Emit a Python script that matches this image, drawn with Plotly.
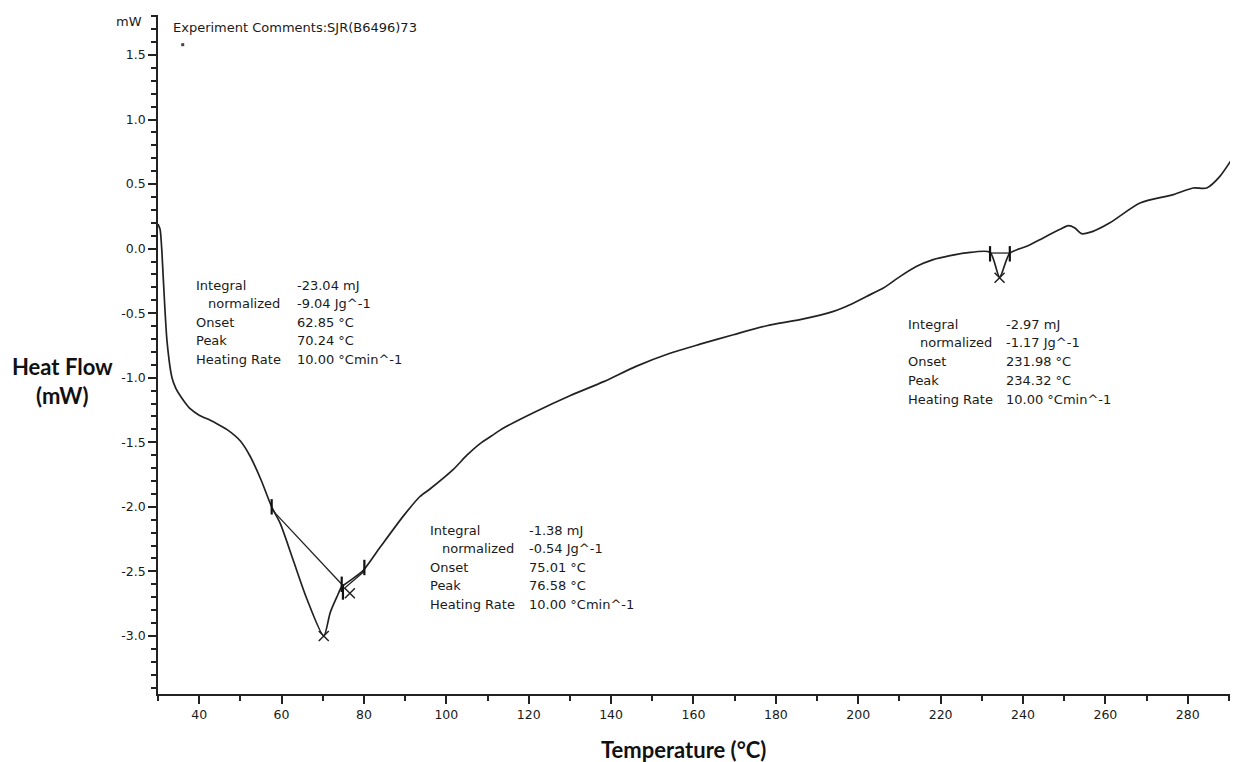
import plotly.graph_objects as go

# ---- data ----
temps = [30.0, 30.5, 30.9, 31.3, 32.2, 33.4, 34.3, 35.4, 36.5, 37.8, 40.0, 42.7, 44.5, 46.7,
         50.0, 52.4, 55.0, 57.6, 59.7, 62.9, 66.1, 70.24, 71.8, 73.4, 74.6, 76.7, 79.9, 84.0,
         89.6, 93.6, 96.1, 101.7, 105.0, 108.2, 111.0, 113.9, 121.9, 130.0, 138.2, 146.2,
         154.3, 161.6, 169.7, 177.8, 185.9, 194.0, 198.0, 202.0, 206.1, 210.2, 214.2, 218.2,
         222.3, 226.3, 231.98, 234.32, 236.8, 240.9, 244.9, 249.0, 251.0, 252.6, 254.2, 257.0,
         261.1, 268.4, 276.5, 281.3, 284.6, 287.8, 292.2]
heat_flow = [0.19, 0.15, 0.0, -0.24, -0.72, -1.00, -1.08, -1.14, -1.19, -1.24, -1.29, -1.33, -1.36, -1.40,
             -1.49, -1.61, -1.79, -2.00, -2.13, -2.42, -2.71, -3.00, -2.82, -2.70, -2.62, -2.57, -2.49, -2.31,
             -2.07, -1.92, -1.86, -1.71, -1.60, -1.51, -1.45, -1.39, -1.26, -1.14, -1.03, -0.91,
             -0.81, -0.74, -0.667, -0.597, -0.55, -0.486, -0.434, -0.37, -0.305, -0.215, -0.137, -0.085,
             -0.054, -0.033, -0.028, -0.22, -0.035, 0.018, 0.083, 0.15, 0.178, 0.16, 0.116, 0.134,
             0.20, 0.354, 0.419, 0.47, 0.47, 0.56, 0.767]

# integration limits (temperature, heat flow) and baselines
limit_t = [57.6, 74.6, 74.9, 80.1, 232.0, 236.8]
limit_v = [-2.00, -2.60, -2.66, -2.47, -0.04, -0.04]
baseline1_t = [57.6, 74.6]
baseline1_v = [-2.02, -2.60]
baseline2_t = [74.9, 80.1]
baseline2_v = [-2.64, -2.50]
baseline3_t = [232.0, 236.8]
baseline3_v = [-0.034, -0.034]
peak_t = [70.24, 76.58, 234.32]
peak_v = [-3.00, -2.67, -0.225]
stray_dot_t = [36.0]
stray_dot_v = [1.58]

x_ticks = [40, 60, 80, 100, 120, 140, 160, 180, 200, 220, 240, 260, 280]
y_ticks = [-3.0, -2.5, -2.0, -1.5, -1.0, -0.5, 0.0, 0.5, 1.0, 1.5]

row_labels = ["Integral", "normalized", "Onset", "Peak", "Heating Rate"]
peak1_values = ["-23.04 mJ", "-9.04 Jg^-1", "62.85 °C", "70.24 °C", "10.00 °Cmin^-1"]
peak2_values = ["-1.38 mJ", "-0.54 Jg^-1", "75.01 °C", "76.58 °C", "10.00 °Cmin^-1"]
peak3_values = ["-2.97 mJ", "-1.17 Jg^-1", "231.98 °C", "234.32 °C", "10.00 °Cmin^-1"]

# ---- layout geometry (pixels); page has an 8px body margin ----
OFF = 8
W, H = 1238 - OFF, 762 - OFF
ML, MR, MT, MB = 158 - OFF, 0, 15 - OFF, 68
PW, PH = W - ML - MR, H - MT - MB

def px(xp):
    return (xp - OFF - ML) / PW

def py(yp):
    return (H - MB - (yp - OFF)) / PH

ink = "#222222"
small_font = dict(family="DejaVu Sans", size=13, color="#1a1a1a")
tick_font = dict(family="DejaVu Sans", size=12.5, color="#1a1a1a")

fig = go.Figure()
fig.add_trace(go.Scatter(x=temps, y=heat_flow, mode="lines",
                         line=dict(color=ink, width=1.7, shape="spline", smoothing=0.7),
                         hoverinfo="skip", showlegend=False))
for bt, bv in [(baseline1_t, baseline1_v), (baseline2_t, baseline2_v), (baseline3_t, baseline3_v)]:
    fig.add_trace(go.Scatter(x=bt, y=bv, mode="lines", line=dict(color=ink, width=1.3),
                             hoverinfo="skip", showlegend=False))
fig.add_trace(go.Scatter(x=limit_t, y=limit_v, mode="markers",
                         marker=dict(symbol="line-ns", size=11, line=dict(color="#111", width=2.2)),
                         hoverinfo="skip", showlegend=False))
fig.add_trace(go.Scatter(x=peak_t, y=peak_v, mode="markers",
                         marker=dict(symbol="x-thin", size=10, line=dict(color=ink, width=1.5)),
                         hoverinfo="skip", showlegend=False))
fig.add_trace(go.Scatter(x=stray_dot_t, y=stray_dot_v, mode="markers",
                         marker=dict(symbol="square", size=3, color="#444"),
                         hoverinfo="skip", showlegend=False))

annotations = []

def text(xp, yp, s, font=small_font, xanchor="left"):
    annotations.append(dict(x=px(xp), y=py(yp), xref="paper", yref="paper", text=s,
                            showarrow=False, xanchor=xanchor, yanchor="middle", font=font))

def block(lx, vx, y0, dy, values):
    for i, (lab, val) in enumerate(zip(row_labels, values)):
        indent = 12 if lab == "normalized" else 0
        text(lx + indent, y0 + i * dy, lab)
        text(vx, y0 + i * dy, val)

block(194, 295, 285, 18.6, peak1_values)
block(428, 527, 530, 18.6, peak2_values)
block(906, 1004, 324, 18.8, peak3_values)

text(171, 27, "Experiment Comments:SJR(B6496)73")
text(144, 22, "mW", xanchor="right")

title_font = dict(family="Lato", size=22, color="#111")
text(62, 367, "<b>Heat Flow</b>", font=title_font, xanchor="center")
text(62, 395, "<b>(mW)</b>", font=title_font, xanchor="center")
text(683, 749, "<b>Temperature (°C)</b>", font=title_font, xanchor="center")

fig.update_layout(
    width=W, height=H,
    margin=dict(l=ML, r=MR, t=MT, b=MB, pad=0),
    paper_bgcolor="white", plot_bgcolor="white",
    annotations=annotations,
    showlegend=False,
)
fig.update_xaxes(range=[30, 292.2], showgrid=False, zeroline=False,
                 showline=True, linecolor=ink, linewidth=2,
                 tickmode="array", tickvals=x_ticks, ticktext=[str(t) for t in x_ticks],
                 ticks="outside", ticklen=8, tickwidth=1.5, tickcolor=ink,
                 tickfont=tick_font,
                 minor=dict(tickmode="linear", tick0=30, dtick=10, ticks="outside",
                            ticklen=5, tickwidth=1.5, tickcolor=ink))
fig.update_yaxes(range=[-3.45, 1.81], showgrid=False, zeroline=False,
                 showline=True, linecolor=ink, linewidth=1.5,
                 tickmode="array", tickvals=y_ticks, ticktext=[f"{v:.1f}" for v in y_ticks],
                 ticks="outside", ticklen=8, tickwidth=1.5, tickcolor=ink,
                 tickfont=tick_font,
                 minor=dict(tickmode="linear", tick0=0, dtick=0.1, ticks="outside",
                            ticklen=5, tickwidth=1.5, tickcolor=ink))

fig.write_html("out.html")
